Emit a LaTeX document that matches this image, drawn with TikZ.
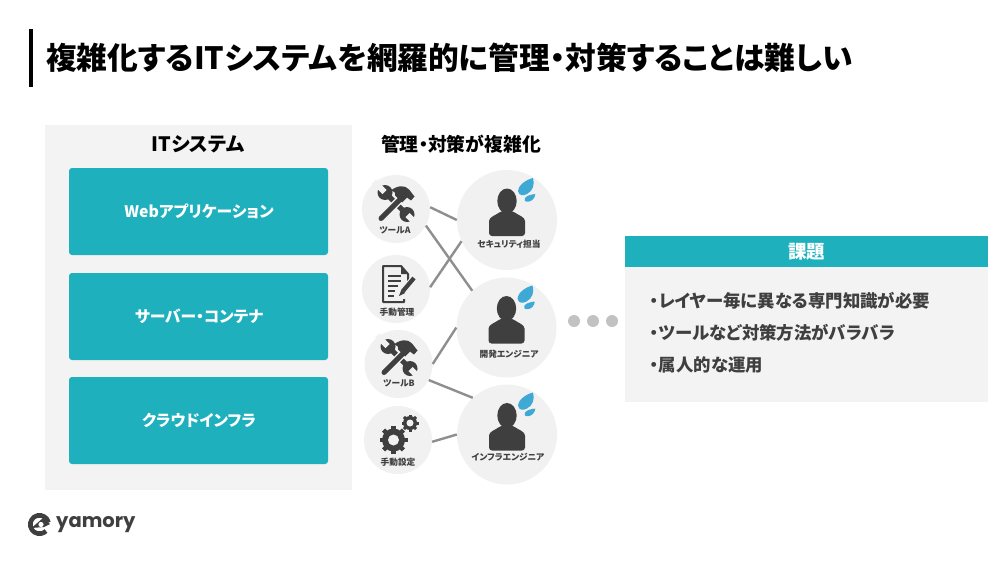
\documentclass[tikz,border=0pt]{standalone}
\usepackage{fontspec}
\setmainfont{Noto Sans CJK JP}[RawFeature=+palt]
\newfontfamily\logofont{Poppins}
\usetikzlibrary{calc}
\definecolor{teal1}{HTML}{1EB0BD}
\definecolor{panel}{HTML}{F3F3F3}
\definecolor{disc}{HTML}{F1F1F1}
\definecolor{ink}{HTML}{3F3F3F}
\definecolor{drop}{HTML}{3FA9D6}
\definecolor{wire}{HTML}{8F8F8F}
\newcommand{\fs}[1]{\fontsize{#1}{#1}\selectfont\bfseries}
\tikzset{
  tealbox/.style={fill=teal1,rounded corners=3pt,draw=none},
  boxlabel/.style={text=white,font=\fs{15.8}},
  toolnode/.style={circle,fill=disc,minimum size=68pt,inner sep=0pt},
  staffnode/.style={circle,fill=disc,minimum size=100pt,inner sep=0pt},
  smalltext/.style={text=ink,font=\fs{8.7},inner sep=0pt},
  wirelink/.style={wire,line width=2.4pt},
  itemtext/.style={text=ink,font=\fs{17.4},anchor=west,inner sep=0pt},
  pics/staff/.style={code={
    \fill[ink] (0,-19) ellipse[x radius=9.7pt,y radius=12.5pt];
    \fill[ink,rounded corners=3pt] (-18,16) -- (-18,4)
      .. controls (-18,-3) and (-11,-5) .. (-6,-9) -- (6,-9)
      .. controls (11,-5) and (18,-3) .. (18,4) -- (18,16) -- cycle;
    \fill[drop] (26,-42) .. controls (28,-36) and (26,-29) .. (20,-26)
      .. controls (16,-24) and (12,-24) .. (11,-29)
      .. controls (11,-34) and (18,-40) .. (26,-42) -- cycle;
    \fill[drop] (28.3,-26) .. controls (28,-22) and (25,-18.5) .. (21,-18.3)
      .. controls (18,-18) and (16.5,-20) .. (18,-22)
      .. controls (20,-24.5) and (24,-25.5) .. (28.3,-26) -- cycle;
  }},
  pics/tools/.style={code={
    % wrench
    \draw[ink,line width=5pt] (-10,-10) -- (10,10);
    \fill[ink] (-11,-11) circle[radius=7.5pt];
    \fill[ink] (11,11) circle[radius=7.5pt];
    \draw[disc,line width=6pt] (-11.5,-11.5) -- (-22,-22);
    \draw[disc,line width=6pt] (11.5,11.5) -- (22,22);
    % hammer with its handle laid over the wrench
    \draw[disc,line width=8pt] (-13,13) -- (4,-4);
    \draw[ink,line width=5pt,line cap=round] (-15,15) -- (5,-5);
    \fill[ink] (-5,-13) .. controls (1,-18) and (9,-19) .. (13,-14)
      -- (18.5,-7) -- (15,-3) -- (11,-6) -- (6,-1) -- (-1,-8)
      .. controls (0,-11) and (-2,-12) .. cycle;
  }},
  pics/sheet/.style={code={
    \draw[ink,line width=2pt,line join=round] (10,-2) -- (10,-11) -- (3,-19)
      -- (-15,-19) -- (-15,17) -- (6,17) -- (6,14);
    \fill[ink] (3,-19) -- (10,-11) -- (3,-11) -- cycle;
    \foreach \yy/\xx in {-9/3,-4/3,1/0,6/-3,11/-4}
      \draw[ink,line width=1.8pt] (-10,\yy) -- (\xx,\yy);
    \draw[disc,line width=8pt] (1,12) -- (17,-7);
    \draw[ink,line width=4.2pt] (5,6) -- (16,-7);
    \fill[ink] (3.5,4.5) -- (7,8) -- (1,11) -- cycle;
  }},
  pics/gears/.style={code={
    \foreach \ang in {0,45,...,315}
      \draw[ink,line width=4.5pt] (0,0) -- (\ang:14pt);
    \fill[ink] (0,0) circle[radius=11.5pt];
    \fill[disc] (0,0) circle[radius=5.5pt];
    \begin{scope}[shift={(16.5,-17)}]
      \foreach \ang in {0,45,...,315}
        \draw[ink,line width=3pt] (0,0) -- (\ang:8.5pt);
      \fill[ink] (0,0) circle[radius=7pt];
      \fill[disc] (0,0) circle[radius=3.5pt];
    \end{scope}
  }}
}
\begin{document}
\begin{tikzpicture}[x=1pt,y=-1pt]
\useasboundingbox (0,0) rectangle (1000,562);
\fill[white] (0,0) rectangle (1000,562);

% heading
\fill[black] (29,29) rectangle (33,87);
\node[anchor=west,inner sep=0pt,text=black,font=\fs{30.7}] (title) at (46,58)
  {複雑化するITシステムを網羅的に管理・対策することは難しい};

% left column
\fill[panel] (45,125) rectangle (352,490);
\node[text=black,font=\fs{19.8}] (ithead) at (198,144) {ITシステム};
\fill[tealbox] (69,168) rectangle (328,255);
\fill[tealbox] (69,273) rectangle (328,360);
\fill[tealbox] (69,377) rectangle (328,464);
\node[boxlabel] (web) at (199,211.5) {Webアプリケーション};
\node[boxlabel] (srv) at (199,316.5) {サーバー・コンテナ};
\node[boxlabel] (cld) at (199,420.5) {クラウドインフラ};

% middle column
\node[text=black,font=\fs{18.8}] (midhead) at (461,144) {管理・対策が複雑化};
\node[toolnode] (toola) at (396,209) {};
\node[toolnode] (hand) at (396,289) {};
\node[toolnode] (toolb) at (398.5,364) {};
\node[toolnode] (conf) at (398,440) {};
\node[staffnode] (sec) at (507,220) {};
\node[staffnode] (dev) at (506.5,327.5) {};
\node[staffnode] (inf) at (507,434.5) {};

\draw[wirelink] (toola.3) -- (sec.180);
\draw[wirelink] (toola.-29) -- (dev.133);
\draw[wirelink] (hand.3) -- (sec.205);
\draw[wirelink] (toolb.0) -- (dev.180);
\draw[wirelink] (toolb.-28) -- (inf.133);
\draw[wirelink] (conf.-3) -- (inf.180);

\pic at (396,203.5) {tools};
\pic at (399,357.5) {tools};
\pic at (398,285) {sheet};
\pic at (393.5,440) {gears};
\pic at (sec) {staff};
\pic at (dev) {staff};
\pic at (inf) {staff};

\node[smalltext] (la) at (395,230) {ツールA};
\node[smalltext] (lm) at (397,312) {手動管理};
\node[smalltext] (lb) at (399,383) {ツールB};
\node[smalltext] (lc) at (398,462) {手動設定};
\node[smalltext] (ls) at (509,244) {セキュリティ担当};
\node[smalltext] (ld) at (509,354) {開発エンジニア};
\node[smalltext] (li) at (508,457.5) {インフラエンジニア};

% ellipsis between the columns
\foreach \dx in {574,593,612}
  \fill[black!24] (\dx,321) circle[radius=6pt];

% issues card
\fill[teal1] (625,236) rectangle (988,267);
\fill[panel] (625,267) rectangle (988,402);
\node[text=white,font=\fs{18.5}] (issue) at (806.5,252) {課題};
\node[itemtext] (i1) at (650,301) {・レイヤー毎に異なる専門知識が必要};
\node[itemtext] (i2) at (650,333) {・ツールなど対策方法がバラバラ};
\node[itemtext] (i3) at (650,365) {・属人的な運用};

% brand mark: open ring with an inner eye
\coordinate (mark) at (39.5,524.5);
\draw[ink,line width=4.6pt] (mark) ++(12:9.2pt) arc[start angle=12,end angle=315,radius=9.2pt];
\fill[ink] (31.5,528) -- (43,518) -- (50,524) -- (44,527) -- cycle;
\fill[white] (41,524.5) circle[radius=2.6pt];
\node[anchor=west,inner sep=0pt,text=ink,font=\logofont\fontsize{19.5}{19.5}\selectfont\bfseries] (brand) at (56,525) {yamory};
\end{tikzpicture}
\end{document}
